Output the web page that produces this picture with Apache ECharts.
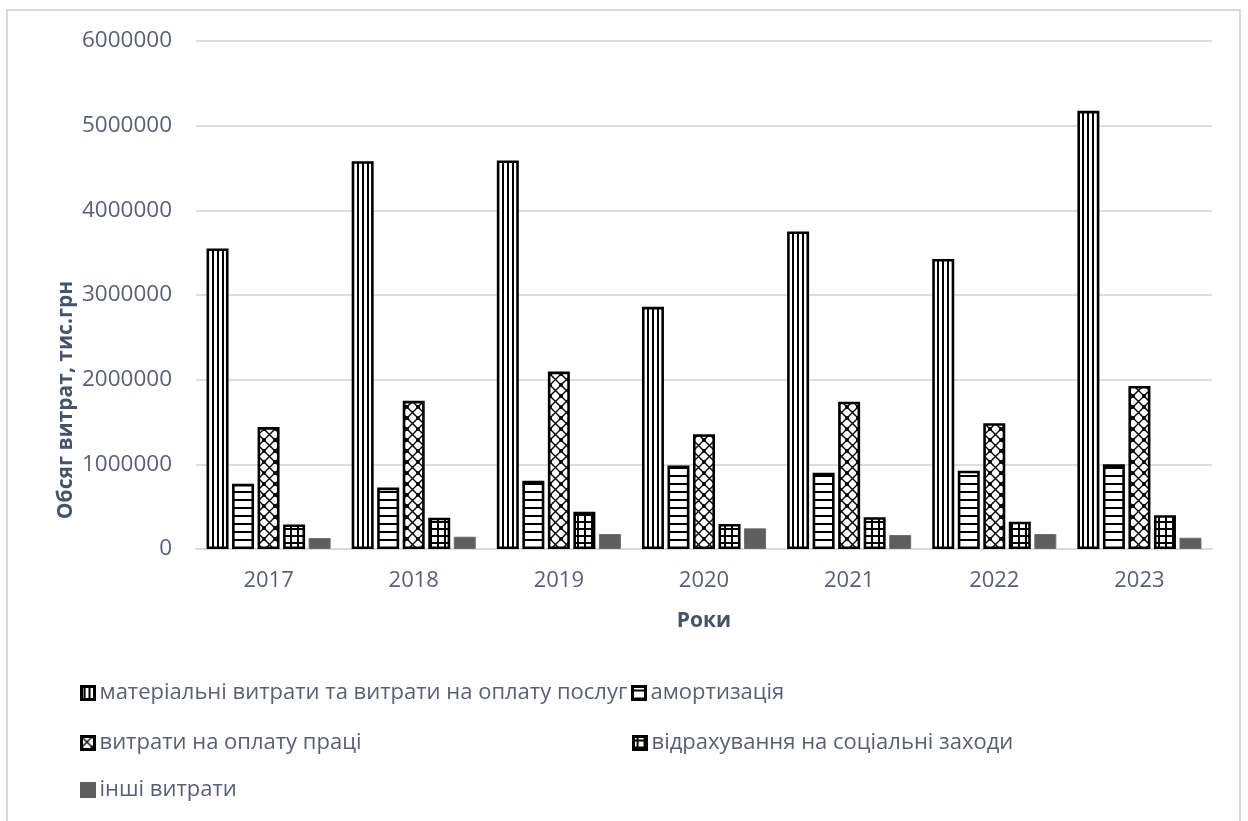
<!DOCTYPE html>
<html>
<head>
<meta charset="utf-8">
<title>Структура витрат за елементами, 2017–2023</title>
<script src="https://cdn.jsdelivr.net/npm/echarts@6/dist/echarts.min.js"></script>
<style>
  html, body { margin: 0; padding: 0; background: #ffffff; }
  #chart { width: 1248px; height: 821px; }
</style>
</head>
<body>
<div id="chart"></div>
<script>
// Роки
const years = ['2017', '2018', '2019', '2020', '2021', '2022', '2023'];

// Назви елементів витрат
const seriesNames = [
  'матеріальні витрати та витрати на оплату послуг',
  'амортизація',
  'витрати на оплату праці',
  'відрахування на соціальні заходи',
  'інші витрати'
];

// Обсяг витрат, тис. грн
const materialCosts = [3550000, 4580000, 4590000, 2860000, 3750000, 3425000, 5175000];
const depreciation  = [770000, 725000, 805000, 985000, 900000, 925000, 1000000];
const laborCosts    = [1440000, 1750000, 2095000, 1355000, 1740000, 1485000, 1925000];
const socialCharges = [290000, 370000, 440000, 295000, 375000, 322000, 400000];
const otherCosts    = [130000, 145000, 177000, 244000, 165000, 177000, 133000];

// Підписи осі значень
const yTicks = [0, 1000000, 2000000, 3000000, 4000000, 5000000, 6000000];

const FONT = '"Open Sans", "Noto Sans", sans-serif';
const LABEL_COLOR = '#586174';
const TITLE_COLOR = '#44546a';

// Штрихування стовпців (канвас-візерунки)
function makePattern(kind) {
  const c = document.createElement('canvas');
  const ctx = c.getContext('2d');
  let w = 8, h = 8;
  if (kind === 'vertical') { w = 5; h = 5; }
  if (kind === 'horizontal') { w = 8; h = 8; }
  if (kind === 'diamond') { w = 11; h = 11; }
  if (kind === 'grid') { w = 7; h = 7; }
  c.width = w; c.height = h;
  ctx.fillStyle = '#ffffff';
  ctx.fillRect(0, 0, w, h);
  ctx.fillStyle = '#000000';
  ctx.strokeStyle = '#000000';
  if (kind === 'vertical') {
    ctx.fillRect(2, 0, 2, h);
  } else if (kind === 'horizontal') {
    ctx.fillRect(0, 3, w, 2);
  } else if (kind === 'grid') {
    ctx.fillRect(3, 0, 2, h);
    ctx.fillRect(0, 3, w, 2);
  } else if (kind === 'diamond') {
    ctx.lineWidth = 1.4;
    ctx.beginPath();
    ctx.moveTo(-1, -1); ctx.lineTo(w + 1, h + 1);
    ctx.moveTo(w + 1, -1); ctx.lineTo(-1, h + 1);
    ctx.stroke();
    ctx.fillRect(0, 0, 1.8, 1.8);
    ctx.fillRect(w - 1.8, 0, 1.8, 1.8);
    ctx.fillRect(0, h - 1.8, 1.8, 1.8);
    ctx.fillRect(w - 1.8, h - 1.8, 1.8, 1.8);
  }
  return { image: c, repeat: 'repeat' };
}

const fills = [
  makePattern('vertical'),
  makePattern('horizontal'),
  makePattern('diamond'),
  makePattern('grid'),
  '#5e5e5e'
];
const borders = ['#000000', '#000000', '#000000', '#000000', '#6e6e6e'];
const values = [materialCosts, depreciation, laborCosts, socialCharges, otherCosts];

const series = seriesNames.map((name, i) => ({
  name: name,
  type: 'bar',
  data: values[i],
  barWidth: 22,
  barGap: '16%',
  itemStyle: {
    color: fills[i],
    borderColor: borders[i],
    borderWidth: i < 4 ? 2.6 : 1
  },
  emphasis: { disabled: true }
}));

// Легенда у три рядки
const legendPos = [
  { left: 80, top: 681 },
  { left: 631, top: 681 },
  { left: 80, top: 731 },
  { left: 632, top: 731 },
  { left: 80, top: 778 }
];
const legends = seriesNames.map((name, i) => ({
  data: [name],
  left: legendPos[i].left,
  top: legendPos[i].top,
  orient: 'horizontal',
  icon: 'rect',
  itemWidth: 13,
  itemHeight: 13,
  selectedMode: false,
  padding: 0,
  itemStyle: { borderWidth: 3, borderColor: i < 4 ? '#000000' : '#5e5e5e' },
  textStyle: { fontFamily: FONT, fontSize: 22, color: LABEL_COLOR, lineHeight: 24 }
}));

const chart = echarts.init(document.getElementById('chart'), null, { renderer: 'canvas' });
chart.setOption({
  backgroundColor: '#ffffff',
  animation: false,
  grid: { left: 196, right: 36, top: 41, bottom: 272, containLabel: false },
  xAxis: {
    type: 'category',
    data: years,
    axisLine: { show: true, lineStyle: { color: '#d9d9de', width: 2 } },
    axisTick: { show: false },
    axisLabel: { fontFamily: FONT, fontSize: 22, color: LABEL_COLOR, margin: 21 }
  },
  yAxis: {
    type: 'value',
    min: yTicks[0],
    max: yTicks[yTicks.length - 1],
    interval: yTicks[1] - yTicks[0],
    axisLine: { show: false },
    axisTick: { show: false },
    splitLine: { lineStyle: { color: '#dcdce2', width: 2 } },
    axisLabel: {
      fontFamily: FONT, fontSize: 22.5, color: LABEL_COLOR, margin: 24,
      formatter: (v) => String(v)
    }
  },
  legend: legends,
  series: series,
  graphic: [
    {
      type: 'rect',
      shape: { x: 7, y: 10, width: 1233, height: 840 },
      style: { fill: 'none', stroke: '#d9d9d9', lineWidth: 2 },
      silent: true,
      z: -1
    },
    {
      type: 'text',
      x: 66, y: 400,
      rotation: Math.PI / 2,
      style: {
        text: 'Обсяг витрат, тис.грн',
        fontFamily: FONT, fontSize: 21, fontWeight: 'bold',
        fill: TITLE_COLOR, align: 'center', verticalAlign: 'middle'
      }
    },
    {
      type: 'text',
      x: 704, y: 621,
      style: {
        text: 'Роки',
        fontFamily: FONT, fontSize: 21, fontWeight: 'bold',
        fill: TITLE_COLOR, align: 'center', verticalAlign: 'middle'
      }
    }
  ]
});
</script>
</body>
</html>
